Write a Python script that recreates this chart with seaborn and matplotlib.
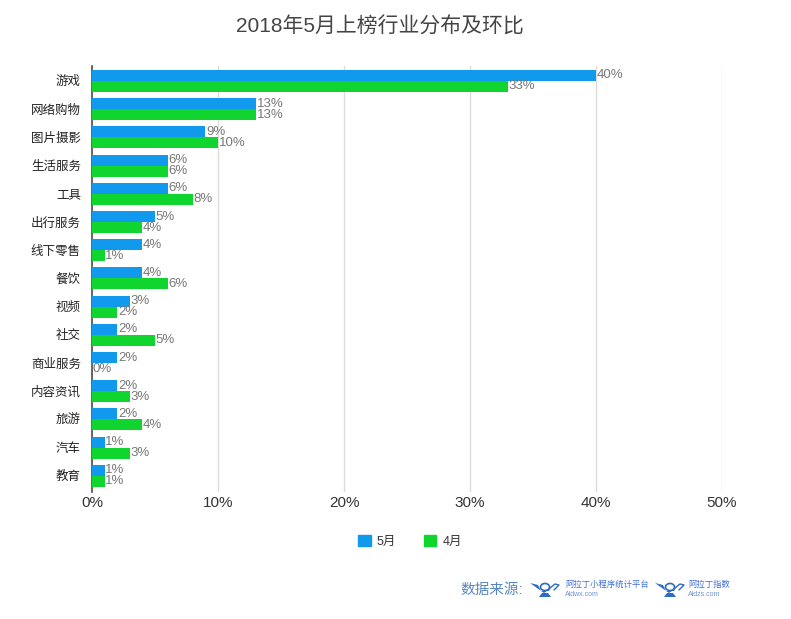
import matplotlib
matplotlib.use("Agg")
import matplotlib.pyplot as plt
import seaborn as sns
import pandas as pd
from matplotlib.patches import Patch, Circle, Polygon
from matplotlib.lines import Line2D

categories = ["游戏","网络购物","图片摄影","生活服务","工具","出行服务","线下零售","餐饮","视频","社交","商业服务","内容资讯","旅游","汽车","教育"]
may = [40,13,9,6,6,5,4,4,3,2,2,2,2,1,1]
apr = [33,13,10,6,8,4,1,6,2,5,0,3,4,3,1]
series_names = ["5月","4月"]
title = "2018年5月上榜行业分布及环比"
xticks = [0,10,20,30,40,50]
BLUE, GREEN = "#1199ee", "#11d52f"

sns.set_theme(style="white")
plt.rcParams['font.family'] = ['Liberation Sans','Noto Sans CJK SC','DejaVu Sans']
df = pd.DataFrame({"cat":categories*2,"val":may+apr,"s":[series_names[0]]*15+[series_names[1]]*15})
fig = plt.figure(figsize=(7.91,6.19),dpi=100)
ax = fig.add_axes([92/791,1-492/619,(722-92)/791,(492-66)/619])
sns.barplot(data=df,y="cat",x="val",hue="s",palette=[BLUE,GREEN],width=0.78,saturation=1,ax=ax,legend=False,gap=0,linewidth=0,zorder=3)
ax.set_xlim(0,50); ax.set_ylim(14.57,-0.53)
ax.set_xticks(xticks); ax.set_xticklabels([f"{v}%" for v in xticks],fontsize=11,color="#333333")
ax.tick_params(axis='y',labelsize=9,colors="#222222",length=0,pad=8)
ax.tick_params(axis='x',length=0,pad=3)
ax.set_xlabel("");ax.set_ylabel("")
ax.xaxis.grid(True,color="#dcdcdc",lw=1); ax.set_axisbelow(True)
for s in ["top","right"]: ax.spines[s].set_visible(False)
ax.spines["bottom"].set_visible(False)
ax.spines["left"].set_color("#555555")
for c in ax.containers:
    ax.bar_label(c,labels=[f"{v:.0f}%" for v in c.datavalues],padding=0.5,fontsize=9.5,color="#777777",zorder=5)
fig.text(380/791,1-27/619,title,ha="center",va="center",fontsize=15,color="#444444")
fig.legend(handles=[Patch(color=BLUE,label=series_names[0]),Patch(color=GREEN,label=series_names[1])],loc="center",bbox_to_anchor=(410/791,1-541/619),ncol=2,frameon=False,fontsize=9,handlelength=1,handleheight=1,columnspacing=2.2,handletextpad=0.5,labelcolor="#333333")
LOGO = "#2d6cc0"
fig.text(460/791,1-590/619,"数据来源:",fontsize=10.5,color="#5a86c0",va="center")
fig.text(565/791,1-585/619,"阿拉丁小程序统计平台",fontsize=6,color="#3f6fd8",va="center")
fig.text(565/791,1-595/619,"Aldwx.com",fontsize=5,color="#6f93d0",va="center")
fig.text(688/791,1-585/619,"阿拉丁指数",fontsize=6,color="#3f6fd8",va="center")
fig.text(688/791,1-595/619,"Aldzs.com",fontsize=5,color="#6f93d0",va="center")
for x0 in (530,655):
    def P(x,y): return ((x0+x)/791,1-(578+y)/619)
    fig.add_artist(Circle(P(15,9),4.5/791,transform=fig.transFigure,fill=False,ec=LOGO,lw=1.2))
    fig.add_artist(Polygon([P(0,5),P(8,7),P(11,13),P(19,13),P(21,10),P(14,15)],transform=fig.transFigure,color=LOGO,lw=0))
    fig.add_artist(Polygon([P(9,19),P(21,19),P(18,15),P(12,15)],transform=fig.transFigure,color=LOGO,lw=0))
    fig.add_artist(Line2D([P(20,10)[0],P(25,6)[0],P(29,7)[0],P(24,12)[0]],[P(20,10)[1],P(25,6)[1],P(29,7)[1],P(24,12)[1]],transform=fig.transFigure,color=LOGO,lw=1))
fig.savefig("out.png",dpi=100)
